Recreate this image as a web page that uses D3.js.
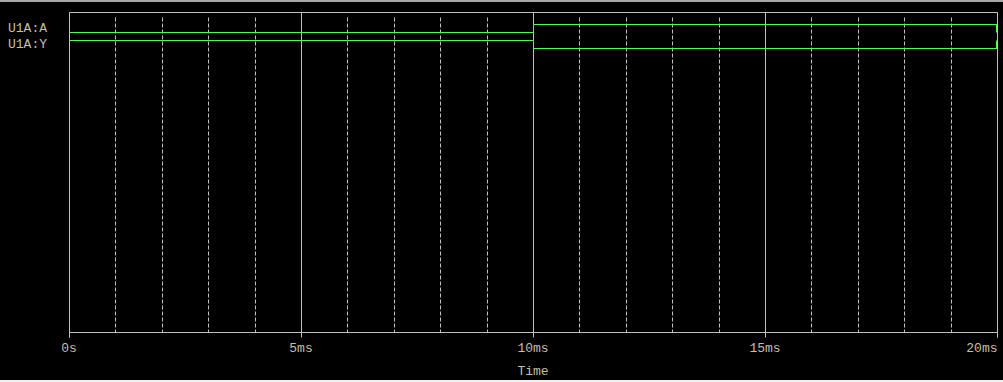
<!DOCTYPE html>
<html>
<head>
<meta charset="utf-8">
<script src="https://cdn.jsdelivr.net/npm/d3@7"></script>
<style>
  html, body { margin: 0; padding: 0; background: #000; overflow: hidden; }
  text { font-family: "Liberation Mono", "Courier New", monospace; font-size: 13px; fill: #c8bea6; }
</style>
</head>
<body>
<svg id="chart"></svg>
<script>
// digital waveform data (time in ms, logic level 0/1)
const signals = ['U1A:A', 'U1A:Y'];
const edgesA = [{ t: 0, v: 0 }, { t: 10, v: 1 }];
const edgesY = [{ t: 0, v: 1 }, { t: 10, v: 0 }];
const tEnd = 20;
const majorTicks = [0, 5, 10, 15, 20];
const minorTicks = d3.range(0, 21, 1);
const axisTitle = 'Time';

const width = 1003;
const height = 382;
const margin = { left: 69, right: 6, top: 12, bottom: 50 };
const gray = '#c0c0c0';
const green = '#4cff4c';

const svg = d3.select('#chart').attr('width', width).attr('height', height);

svg.append('rect').attr('width', width).attr('height', height).attr('fill', '#000');
// window chrome bits top / bottom
svg.append('rect').attr('x', 0).attr('y', 0).attr('width', width).attr('height', 2).attr('fill', '#a8a8a8');
svg.append('rect').attr('x', 0).attr('y', 380).attr('width', width).attr('height', 2).attr('fill', '#f0f0f0');

const x = d3.scaleLinear().domain([0, tEnd]).range([margin.left, width - margin.right]);
const px = function(t) { return Math.round(x(t)) + 0.5; };
const yTop = margin.top + 0.5;
const yBottom = height - margin.bottom + 0.5;

// rows: top of each signal row, level offset within the row
const row = d3.scalePoint().domain(signals).range([24, 40]);
const level = d3.scaleLinear().domain([0, 1]).range([8, 0]);

const grid = svg.append('g');

grid.selectAll('line.minor')
  .data(minorTicks.filter(function(t) { return majorTicks.indexOf(t) < 0; }))
  .enter().append('line')
  .attr('class', 'minor')
  .attr('x1', px).attr('x2', px)
  .attr('y1', yTop + 5).attr('y2', yBottom)
  .attr('stroke', gray)
  .attr('stroke-dasharray', '4,2');

grid.selectAll('line.major')
  .data(majorTicks)
  .enter().append('line')
  .attr('class', 'major')
  .attr('x1', px).attr('x2', px)
  .attr('y1', yTop).attr('y2', yBottom + 5)
  .attr('stroke', gray);

// frame top / bottom
grid.append('line').attr('x1', px(0)).attr('x2', px(tEnd)).attr('y1', yTop).attr('y2', yTop).attr('stroke', gray);
grid.append('line').attr('x1', px(0)).attr('x2', px(tEnd)).attr('y1', yBottom).attr('y2', yBottom).attr('stroke', gray);

// tick labels
svg.selectAll('text.tick')
  .data(majorTicks)
  .enter().append('text')
  .attr('class', 'tick')
  .attr('x', function(t) { return t === tEnd ? px(t) : x(t); })
  .attr('y', 352)
  .attr('text-anchor', function(t) { return t === tEnd ? 'end' : 'middle'; })
  .text(function(t) { return t === 0 ? '0s' : t + 'ms'; });

svg.append('text')
  .attr('x', x(tEnd / 2))
  .attr('y', 375)
  .attr('text-anchor', 'middle')
  .text(axisTitle);

// signal names
svg.selectAll('text.sig')
  .data(signals)
  .enter().append('text')
  .attr('class', 'sig')
  .attr('x', 8)
  .attr('y', function(s) { return row(s) + level(0); })
  .text(function(s) { return s; });

// waveforms
const waves = [edgesA, edgesY];
const stepLine = d3.line()
  .x(function(d) { return d[0]; })
  .y(function(d) { return d[1]; });

waves.forEach(function(edges, i) {
  const r = row(signals[i]);
  const pts = [];
  edges.forEach(function(e, k) {
    const t1 = k + 1 < edges.length ? edges[k + 1].t : tEnd;
    const yv = r + level(e.v) + 0.5;
    pts.push([px(e.t), yv]);
    pts.push([px(t1), yv]);
    if (k + 1 < edges.length) pts.push([px(t1), r + level(edges[k + 1].v) + 0.5]);
  });
  svg.append('path')
    .attr('d', stepLine(pts))
    .attr('fill', 'none')
    .attr('stroke', green)
    .attr('shape-rendering', 'crispEdges');
  // end cap
  svg.append('line')
    .attr('x1', px(tEnd) - 1).attr('x2', px(tEnd) - 1)
    .attr('y1', r + level(1) + 0.5).attr('y2', r + level(0) + 0.5)
    .attr('stroke', green);
});

// left / right frame edges on top
svg.append('line').attr('x1', px(0)).attr('x2', px(0)).attr('y1', yTop).attr('y2', yBottom + 5).attr('stroke', gray);
svg.append('line').attr('x1', px(tEnd)).attr('x2', px(tEnd)).attr('y1', yTop).attr('y2', yBottom + 5).attr('stroke', gray);
</script>
</body>
</html>
